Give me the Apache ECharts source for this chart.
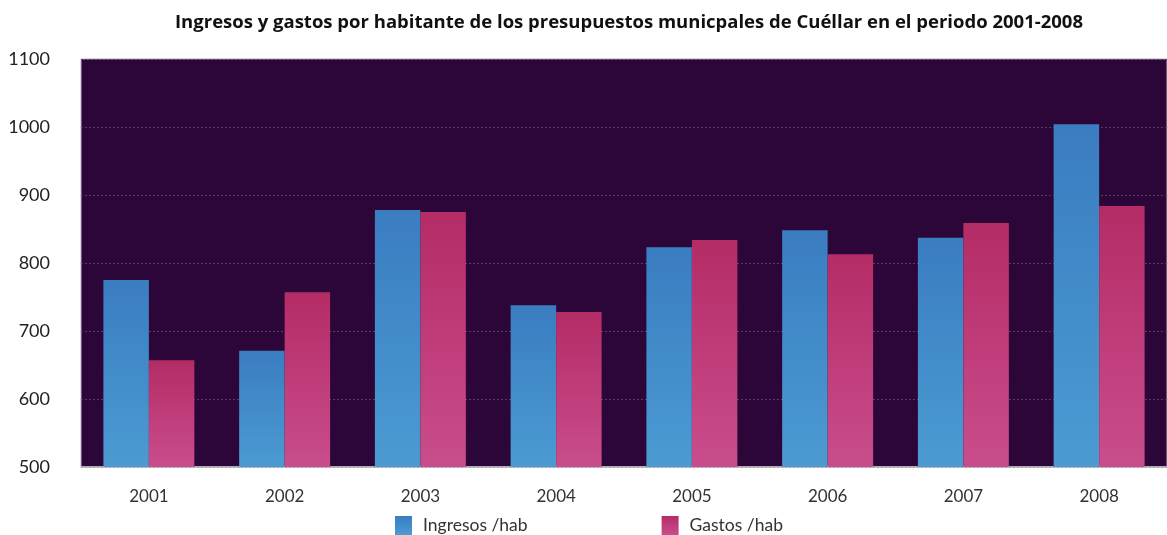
<!DOCTYPE html>
<html>
<head>
<meta charset="utf-8">
<script src="https://cdn.jsdelivr.net/npm/echarts@6/dist/echarts.min.js"></script>
<style>
  html, body { margin: 0; padding: 0; background: #fff; }
  #chart { width: 1167px; height: 535px; }
</style>
</head>
<body>
<div id="chart"></div>
<script>
// datos
const years = ['2001', '2002', '2003', '2004', '2005', '2006', '2007', '2008'];
const ingresos = [775, 671, 878, 738, 823, 848, 837, 1004];
const gastos = [657, 757, 875, 728, 834, 813, 859, 884];

const chart = echarts.init(document.getElementById('chart'));

const grad = (top, bottom) => ({
  type: 'linear', x: 0, y: 0, x2: 0, y2: 1,
  colorStops: [
    { offset: 0, color: top },
    { offset: 1, color: bottom },
  ],
});

const option = {
  animation: false,
  textStyle: { fontFamily: 'Lato' },
  title: {
    text: 'Ingresos y gastos por habitante de los presupuestos municpales de Cuéllar en el periodo 2001-2008',
    left: 624,
    textAlign: 'center',
    top: 8,
    textStyle: { fontSize: 18.5, fontWeight: 'bold', color: '#111', fontFamily: 'Open Sans' },
  },
  legend: {
    left: 390,
    top: 511,
    itemWidth: 17,
    itemHeight: 19,
    itemGap: 134,
    icon: 'rect',
    textStyle: { fontSize: 17.5, color: '#333', padding: [0, 0, 0, 6] },
    data: ['Ingresos /hab', 'Gastos /hab'],
  },
  grid: {
    left: 81,
    right: 0,
    top: 59,
    bottom: 68,
    show: true,
    backgroundColor: '#2c0638',
    borderColor: '#b8aebd',
    borderWidth: 1,
  },
  xAxis: {
    type: 'category',
    data: years,
    axisLine: { lineStyle: { color: '#c4c4c4', width: 1.5 } },
    axisTick: { length: 4, lineStyle: { color: '#c4c4c4' } },
    axisLabel: { fontSize: 17, color: '#333', margin: 21 },
  },
  yAxis: {
    type: 'value',
    min: 500,
    max: 1100,
    interval: 100,
    axisLine: { show: false },
    axisTick: { show: false },
    axisLabel: { fontSize: 18, color: '#222', margin: 31, formatter: (v) => String(v) },
    splitLine: { lineStyle: { color: '#5a3d66', type: [2, 2], width: 1 } },
  },
  series: [
    {
      name: 'Ingresos /hab',
      type: 'bar',
      data: ingresos,
      barGap: '0%',
      barCategoryGap: '33%',
      itemStyle: { color: grad('#3a7dc1', '#4b9bd2') },
    },
    {
      name: 'Gastos /hab',
      type: 'bar',
      data: gastos,
      itemStyle: { color: grad('#b42c66', '#c94d8c') },
    },
  ],
};

chart.setOption(option);
</script>
</body>
</html>
